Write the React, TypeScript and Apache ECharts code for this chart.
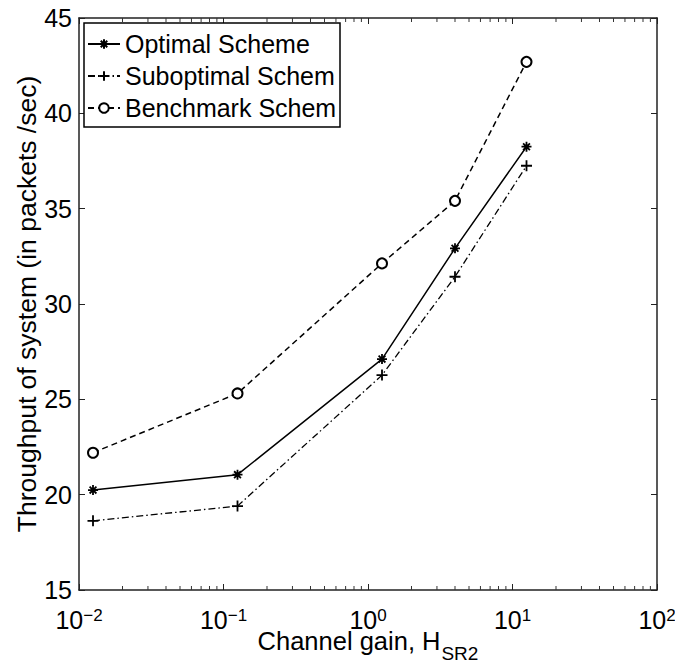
import React, { useEffect, useRef } from "react";
import * as echarts from "echarts";

const FONT = '"Liberation Sans", Arial, Helvetica, sans-serif';

// Data
const channelGain = [0.0125, 0.125, 1.25, 4, 12.5];
const optimal = [20.24, 21.05, 27.11, 32.92, 38.25];
const suboptimal = [18.63, 19.4, 26.27, 31.43, 37.25];
const benchmark = [22.2, 25.31, 32.13, 35.41, 42.7];

const seriesNames = ["Optimal Scheme", "Suboptimal Scheme", "Benchmark Scheme"];

const xMin = 0.01;
const xMax = 100;
const yMin = 15;
const yMax = 45;
const yStep = 5;

const minorDecades = [-2, -1, 0, 1];
const minorMultipliers = [2, 3, 4, 5, 6, 7, 8, 9];

const STAR = "path://M5,0L5,10M0,5L10,5M1.6,1.6L8.4,8.4M1.6,8.4L8.4,1.6";
const PLUS = "path://M5,0L5,10M0,5L10,5";

export default function App() {
  const ref = useRef<HTMLDivElement>(null);

  useEffect(() => {
    if (!ref.current) return;
    const chart = echarts.init(ref.current, undefined, { renderer: "svg" });

    const zip = (ys: number[]) => channelGain.map((x, i) => [x, ys[i]]);
    const minorTicks: number[][] = [];
    minorDecades.forEach((d) =>
      minorMultipliers.forEach((m) => minorTicks.push([m * Math.pow(10, d), yMin]))
    );

    const axisLine = { show: true, lineStyle: { color: "#222", width: 1.5 } };

    const xLabel = {
      fontFamily: FONT,
      color: "#000",
      margin: 17,
      formatter: (v: number) => {
        const e = Math.round(Math.log10(v));
        const s = e < 0 ? "\u2212" + Math.abs(e) : String(e);
        return `{b|10}{s|${s}}`;
      },
      rich: {
        b: { fontSize: 25, fontFamily: FONT, color: "#000", verticalAlign: "bottom", lineHeight: 25, padding: [9, 0, 0, 0] },
        s: { fontSize: 17, fontFamily: FONT, color: "#000", verticalAlign: "top", lineHeight: 17 },
      },
    };

    const option: any = {
      animation: false,
      backgroundColor: "#fff",
      grid: { left: 79, right: 18, top: 18, bottom: 74, containLabel: false, outerBoundsMode: "none" },
      legend: {
        data: seriesNames,
        orient: "vertical",
        left: 84,
        top: 23,
        padding: [8, 0, 6, 3],
        itemGap: 6,
        itemWidth: 32,
        itemHeight: 12,
        backgroundColor: "#fff",
        borderColor: "#000",
        borderWidth: 1.5,
        borderRadius: 0,
        textStyle: {
          fontFamily: FONT,
          fontSize: 25,
          color: "#000",
          lineHeight: 26,
          width: 215,
          overflow: "truncate",
          ellipsis: "",
        },
      },
      xAxis: [
        {
          type: "log",
          logBase: 10,
          min: xMin,
          max: xMax,
          position: "bottom",
          axisLine,
          axisTick: { show: true, inside: true, length: 6, lineStyle: { color: "#222", width: 1 } },
          axisLabel: xLabel,
          splitLine: { show: false },
          name: "Channel gain, H{sub|SR2}",
          nameLocation: "middle",
          nameGap: 38,
          nameMoveOverlap: false,
          nameTextStyle: {
            fontFamily: FONT,
            fontSize: 25.5,
            color: "#000",
            rich: {
              sub: { fontFamily: FONT, fontSize: 19, color: "#000", verticalAlign: "top", lineHeight: 16, padding: [16, 0, 0, 1] },
            },
            verticalAlign: "top",
            lineHeight: 25,
          },
        },
        {
          type: "log",
          logBase: 10,
          min: xMin,
          max: xMax,
          position: "top",
          axisLine,
          axisTick: { show: true, inside: true, length: 6, lineStyle: { color: "#222", width: 1 } },
          axisLabel: { show: false },
          splitLine: { show: false },
        },
      ],
      yAxis: [
        {
          type: "value",
          min: yMin,
          max: yMax,
          interval: yStep,
          position: "left",
          axisLine,
          axisTick: { show: true, inside: true, length: 6, lineStyle: { color: "#222", width: 1 } },
          axisLabel: { fontFamily: FONT, fontSize: 25, color: "#000", margin: 7 },
          splitLine: { show: false },
          name: "Throughput of system (in packets /sec)",
          nameLocation: "middle",
          nameGap: 39,
          nameMoveOverlap: false,
          nameTextStyle: { fontFamily: FONT, fontSize: 26.5, color: "#000" },
        },
        {
          type: "value",
          min: yMin,
          max: yMax,
          interval: yStep,
          position: "right",
          axisLine,
          axisTick: { show: true, inside: true, length: 6, lineStyle: { color: "#222", width: 1 } },
          axisLabel: { show: false },
          splitLine: { show: false },
        },
      ],
      series: [
        {
          name: seriesNames[0],
          type: "line",
          data: zip(optimal),
          symbol: STAR,
          symbolSize: 10,
          lineStyle: { color: "#000", width: 1.5, type: "solid" },
          itemStyle: { color: "#000", borderColor: "#000", borderWidth: 1.8 },
          z: 5,
        },
        {
          name: seriesNames[1],
          type: "line",
          data: zip(suboptimal),
          symbol: PLUS,
          symbolSize: 11,
          lineStyle: { color: "#000", width: 1.3, type: [7, 3, 1.5, 3] },
          itemStyle: { color: "#000", borderColor: "#000", borderWidth: 1.8 },
          z: 5,
        },
        {
          name: seriesNames[2],
          type: "line",
          data: zip(benchmark),
          symbol: "emptyCircle",
          symbolSize: 10,
          lineStyle: { color: "#000", width: 1.5, type: [6, 4] },
          itemStyle: { color: "#000", borderColor: "#000", borderWidth: 1.6 },
          z: 5,
        },
        {
          name: "minorTicks",
          type: "custom",
          silent: true,
          clip: false,
          encode: { x: 0, y: 1 },
          data: minorTicks,
          z: 6,
          renderItem: (params: any, api: any) => {
            const x = api.value(0);
            const pb = api.coord([x, yMin]);
            const pt = api.coord([x, yMax]);
            return {
              type: "group",
              children: [
                { type: "rect", shape: { x: pb[0] - 0.5, y: pb[1] - 4, width: 1, height: 4 }, style: { fill: "#333" } },
                { type: "rect", shape: { x: pt[0] - 0.5, y: pt[1], width: 1, height: 4 }, style: { fill: "#333" } },
              ],
            };
          },
        },
      ],
    };

    chart.setOption(option);
    return () => chart.dispose();
  }, []);

  return (
    <div
      ref={ref}
      style={{ position: "fixed", left: 0, top: 0, width: 675, height: 664, background: "#fff" }}
    />
  );
}
